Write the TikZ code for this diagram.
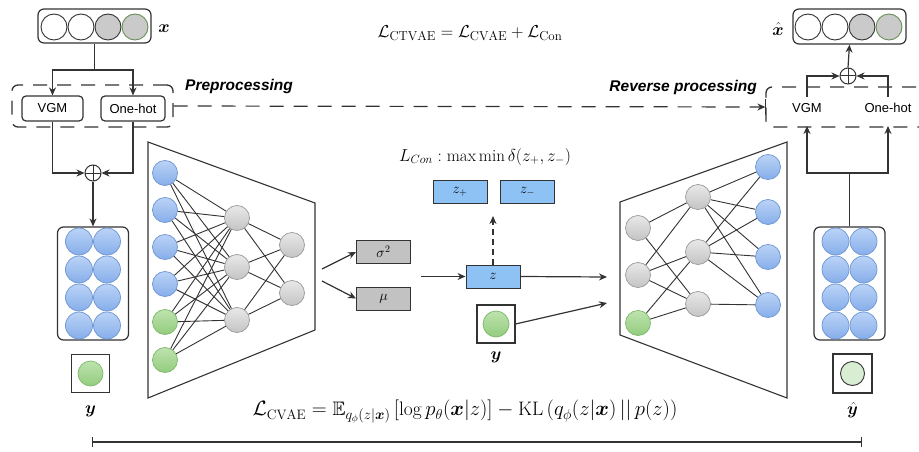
\documentclass[tikz,border=0pt]{standalone}
\usepackage{amsmath,amssymb,bm}
\usepackage{fontspec}
\setsansfont{Liberation Sans}
\usetikzlibrary{arrows.meta,calc}

\definecolor{ink}{HTML}{333333}
\definecolor{bluetop}{HTML}{BBD3F6}
\definecolor{bluebot}{HTML}{86AEEA}
\definecolor{blueedge}{HTML}{6C95D2}
\definecolor{greentop}{HTML}{BDE3AE}
\definecolor{greenbot}{HTML}{93CC7E}
\definecolor{greenedge}{HTML}{7DB86A}
\definecolor{graytop}{HTML}{E8E8E8}
\definecolor{graybot}{HTML}{C4C4C4}
\definecolor{grayedge}{HTML}{9A9A9A}
\definecolor{latentblue}{HTML}{8EC2F4}
\definecolor{statgray}{HTML}{C2C2C2}
\definecolor{featgray}{HTML}{CACACA}
\definecolor{palegreen}{HTML}{D8EDD1}

\begin{document}
\begin{tikzpicture}[x=1pt,y=-1pt,
  conn/.style={draw=ink, line width=1.2pt},
  arr/.style={conn, -{Stealth[length=8pt,width=7pt]}},
  nnedge/.style={draw=ink, line width=0.9pt},
  trap/.style={draw=ink, line width=1.1pt},
  neuron/.style={circle, inner sep=0pt, minimum size=25pt, line width=0.7pt},
  nblue/.style={neuron, draw=blueedge, top color=bluetop, bottom color=bluebot},
  ngreen/.style={neuron, draw=greenedge, top color=greentop, bottom color=greenbot},
  ngray/.style={neuron, draw=grayedge, top color=graytop, bottom color=graybot},
  cell/.style={nblue, minimum size=27pt},
  xcell/.style={circle, inner sep=0pt, minimum size=26pt, draw=ink, line width=0.9pt},
  rbox/.style={draw=ink, line width=1.2pt, rounded corners=6pt, fill=white, inner sep=0pt},
  procbox/.style={draw=ink, line width=1.2pt, rounded corners=4pt, inner sep=0pt,
    minimum height=25pt, font=\sffamily\fontsize{13}{13}\selectfont},
  proclabel/.style={inner sep=0pt, font=\sffamily\fontsize{13}{13}\selectfont},
  dashbox/.style={draw=ink, line width=1.3pt, dash pattern=on 14pt off 10pt,
    rounded corners=6pt, inner sep=0pt},
  latent/.style={draw=ink, line width=1pt, fill=latentblue, inner sep=0pt,
    minimum width=54pt, minimum height=23pt, font=\fontsize{14}{14}\selectfont},
  stat/.style={latent, fill=statgray},
  sqbox/.style={draw=ink, line width=1.2pt, minimum size=38pt, inner sep=0pt, fill=white},
  mathlab/.style={inner sep=0pt, font=\fontsize{19}{19}\selectfont},
  formula/.style={inner sep=0pt, font=\fontsize{17}{17}\selectfont},
  headline/.style={inner sep=0pt, font=\sffamily\bfseries\itshape\fontsize{15.5}{15.5}\selectfont},
  oplus/.style={circle, draw=ink, line width=1pt, minimum size=16pt, inner sep=0pt, fill=white,
    path picture={\draw[ink, line width=1pt]
      (path picture bounding box.north) -- (path picture bounding box.south)
      (path picture bounding box.west) -- (path picture bounding box.east);}}
]
\clip (0,0) rectangle (919,452);
\fill[white] (0,0) rectangle (919,452);

% ---------- input record x and preprocessing ----------
\node[rbox, minimum width=113pt, minimum height=34pt] (xbox) at (94.5,26) {};
\node[xcell, fill=white] (x1) at (54,27) {};
\node[xcell, fill=white] (x2) at (81,27) {};
\node[xcell, fill=featgray] (x3) at (108,27) {};
\node[xcell, fill=featgray, draw=greenedge!70!ink] (x4) at (135,27) {};
\node[mathlab] (xlab) at (164,29) {$\bm{x}$};

\node[dashbox, minimum width=161pt, minimum height=42pt] (prebox) at (92.5,106) {};
\node[procbox, minimum width=61pt, fill=white] (vgm) at (52.5,108.5) {VGM};
\node[procbox, minimum width=64pt, fill=white] (onehot) at (133,108.5) {One-hot};
\node[headline, anchor=west] (prelab) at (185,86) {Preprocessing};

\coordinate (xsplit) at (94.5,70);
\draw[conn] (xbox.south) -- (xsplit);
\draw[arr] (xsplit) -| (vgm.north);
\draw[arr] (xsplit) -| (onehot.north);

\node[oplus] (addL) at (93,173) {};
\draw[arr] (vgm.south) |- (addL.west);
\draw[arr] (onehot.south) |- (addL.east);

% ---------- encoded condition block y ----------
\node[rbox, minimum width=71pt, minimum height=113pt] (ybox) at (93,283.5) {};
\foreach \r/\yy in {1/241.5,2/269.5,3/297.5,4/325.5}{
  \node[cell] (ya\r) at (79,\yy) {};
  \node[cell] (yb\r) at (107,\yy) {};
}
\draw[arr] (addL.south) -- (ybox.north);
\node[sqbox] (ysq) at (90.5,373.5) {};
\node[ngreen] (yleaf) at (ysq.center) {};
\node[mathlab] (ylab) at (90.5,411) {$\bm{y}$};

% ---------- encoder ----------
\draw[trap] (148,142) -- (315,203) -- (315,330) -- (148,398) -- cycle;
\node[nblue] (e1) at (165,173) {};
\node[nblue] (e2) at (165,210) {};
\node[nblue] (e3) at (165,247) {};
\node[nblue] (e4) at (165,284) {};
\node[ngreen] (e5) at (165,322) {};
\node[ngreen] (e6) at (165,360) {};
\node[ngray] (h1) at (237,218) {};
\node[ngray] (h2) at (237,267) {};
\node[ngray] (h3) at (237,320) {};
\node[ngray] (g1) at (292,245) {};
\node[ngray] (g2) at (292,293) {};
\foreach \i in {1,...,6}{\foreach \j in {1,2,3}{\draw[nnedge] (e\i) -- (h\j);}}
\foreach \j in {1,2,3}{\foreach \k in {1,2}{\draw[nnedge] (h\j) -- (g\k);}}

% ---------- latent statistics and sampling ----------
\coordinate (enc1) at (322,269);
\coordinate (enc2) at (322,281);
\node[stat] (sig) at (383.5,252) {$\sigma^2$};
\node[stat] (mu) at (383.5,298.5) {$\mu$};
\draw[arr] (enc1) -- (sig.west);
\draw[arr] (enc2) -- (mu.west);

\node[latent] (z) at (493,276.5) {$z$};
\coordinate (zin) at (421,276.5);
\draw[arr] (zin) -- (z.west);

\node[latent] (zp) at (460,191.5) {$z_+$};
\node[latent] (zm) at (527.5,191.5) {$z_-$};
\coordinate (ztip) at (493,216);
\draw[arr, dashed, dash pattern=on 6pt off 4pt] (z.north) -- (ztip);
\node[formula] (lcon) at (485,157) {$L_{Con}:\max\min\delta(z_+,z_-)$};

\node[sqbox] (ycond) at (496,324) {};
\node[ngreen, minimum size=26pt] (ycondleaf) at (ycond.center) {};
\node[mathlab] (yclab) at (496,357) {$\bm{y}$};

\coordinate (dec1) at (607,277);
\coordinate (dec2) at (607,303);
\draw[arr] (z.east) -- (dec1);
\draw[arr] (ycond.east) -- (dec2);

% ---------- decoder ----------
\draw[trap] (620,202) -- (787,142) -- (787,398) -- (620,335) -- cycle;
\node[ngray] (d1) at (638,228) {};
\node[ngray] (d2) at (638,275) {};
\node[ngreen] (d3) at (638,323) {};
\node[ngray] (m1) at (698,197) {};
\node[ngray] (m2) at (698,252) {};
\node[ngray] (m3) at (698,304) {};
\node[nblue] (o1) at (768,167) {};
\node[nblue] (o2) at (768,212) {};
\node[nblue] (o3) at (768,257) {};
\node[nblue] (o4) at (768,305) {};
\foreach \a/\b in {d1/m1,d1/m3,d2/m1,d2/m2,d2/m3,d3/m2,d3/m3,
                   m1/o1,m1/o2,m1/o3,m1/o4,m2/o1,m2/o2,m2/o3,m2/o4,m3/o4}{
  \draw[nnedge] (\a) -- (\b);
}

% ---------- decoded block and reverse processing ----------
\node[rbox, minimum width=71pt, minimum height=113pt] (yhbox) at (849.5,283.5) {};
\foreach \r/\yy in {1/241.5,2/269.5,3/297.5,4/325.5}{
  \node[cell] (yha\r) at (835.5,\yy) {};
  \node[cell] (yhb\r) at (863.5,\yy) {};
}
\node[sqbox, minimum size=39pt] (yhsq) at (852.5,373.5) {};
\node[circle, draw=ink, line width=0.9pt, fill=palegreen, minimum size=24pt, inner sep=0pt] (yhleaf) at (yhsq.center) {};
\node[mathlab] (yhlab) at (852.5,410) {$\hat{\bm{y}}$};

\node[dashbox, minimum width=180pt, minimum height=40pt] (revbox) at (856,107) {};
\node[headline, anchor=east] (revlab) at (757,87) {Reverse processing};
\draw[conn, dash pattern=on 14pt off 10pt, -{Stealth[length=8pt,width=7pt]}] (prebox.east) -- (revbox.west);
\draw[ink, line width=1.3pt] (revbox.west) ++(0,-8) -- ++(0,16);

\node[proclabel] (vgmR) at (807,108) {VGM};
\node[proclabel] (onehotR) at (888,108) {One-hot};
\coordinate (vgmRin) at (807,126);
\coordinate (onehotRin) at (888,126);
\coordinate (vgmRout) at (807,97);
\coordinate (onehotRout) at (888,97);
\coordinate (rsplit) at (849.5,173);
\draw[conn] (yhbox.north) -- (rsplit);
\draw[arr] (rsplit) -| (vgmRin);
\draw[arr] (rsplit) -| (onehotRin);

\node[oplus] (addR) at (848,76) {};
\draw[arr] (vgmRout) |- (addR.west);
\draw[arr] (onehotRout) |- (addR.east);

\node[rbox, minimum width=113pt, minimum height=35pt] (xhbox) at (849.5,26.5) {};
\node[xcell, fill=white] (xh1) at (808,27) {};
\node[xcell, fill=white] (xh2) at (835,27) {};
\node[xcell, fill=featgray] (xh3) at (862,27) {};
\node[xcell, fill=featgray, draw=greenedge!70!ink] (xh4) at (889,27) {};
\node[mathlab] (xhlab) at (778,29) {$\hat{\bm{x}}$};
\draw[arr] (addR.north) -- (xhbox.south);

% ---------- objectives ----------
\node[formula, font=\fontsize{18.5}{18.5}\selectfont] (ltotal) at (470,33) {$\mathcal{L}_{\mathrm{CTVAE}}=\mathcal{L}_{\mathrm{CVAE}}+\mathcal{L}_{\mathrm{Con}}$};
\node[formula, font=\fontsize{19.5}{19.5}\selectfont] (lcvae) at (465,412) {$\mathcal{L}_{\mathrm{CVAE}}=\mathbb{E}_{q_\phi(z|\bm{x})}\left[\log p_\theta(\bm{x}|z)\right]-\mathrm{KL}\left(q_\phi(z|\bm{x})\,||\,p(z)\right)$};

\coordinate (spanL) at (92,442);
\coordinate (spanR) at (862,442);
\draw[conn, {Bar[width=10pt]}-{Bar[width=10pt]}] (spanL) -- (spanR);
\end{tikzpicture}
\end{document}
